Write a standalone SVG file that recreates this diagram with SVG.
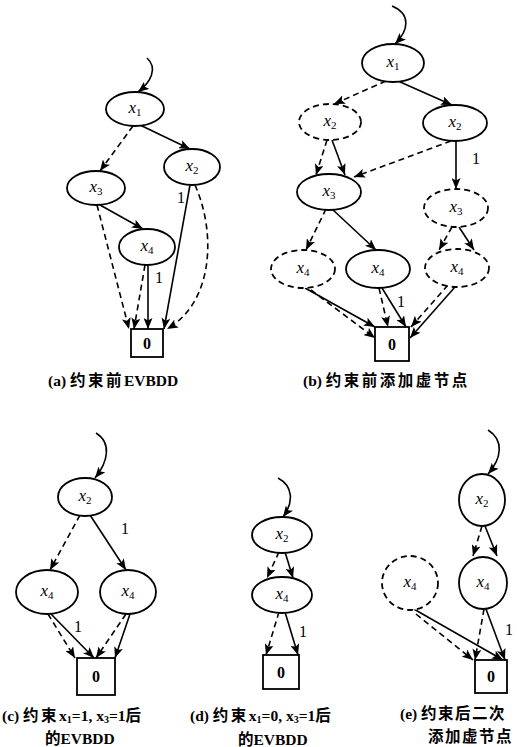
<svg xmlns="http://www.w3.org/2000/svg" width="517" height="747" viewBox="0 0 517 747">
  <style>
    .n ellipse, .n rect { fill: #fff; stroke: #000; stroke-width: 1.8; }
    .v ellipse { stroke-dasharray: 6 4; }
    .lbl { font-family: "Liberation Serif", serif; font-style: italic; font-size: 17px; text-anchor: middle; fill: #000; }
    .lbl .s { font-style: normal; font-size: 11px; }
    .zero { font-family: "Liberation Serif", serif; font-weight: bold; font-size: 16px; text-anchor: middle; fill: #000; }
    .e { fill: none; stroke: #000; stroke-width: 1.6; marker-end: url(#ah); }
    .d { stroke-dasharray: 6 4; }
    .w { font-family: "Liberation Serif", serif; font-size: 16px; text-anchor: middle; fill: #000; }
    .cap { font-family: "Liberation Serif", "Noto Sans CJK SC", serif; font-weight: bold; font-size: 15.5px; fill: #000; }
    .cj { letter-spacing: 2.5px; }
    .cj2 { letter-spacing: 1.5px; }
    .cs { font-size: 10px; }
  </style>
  <defs>
    <marker id="ah" viewBox="0 0 11 9" refX="11" refY="4.5" markerWidth="11" markerHeight="9" markerUnits="userSpaceOnUse" orient="auto">
      <path d="M0,0 L11,4.5 L0,9 L2.5,4.5 z" fill="#000"/>
    </marker>
  </defs>

  <!-- connectors -->
  <g id="edges">
    <!-- (a) -->
    <path class="e" d="M147,58 C158,68 151,82 138,92"/>
    <path class="e d" d="M133,126 L100,171"/>
    <path class="e" d="M140,125 L190,149"/>
    <path class="e" d="M100,205 L143,229"/>
    <path class="e d" d="M97,205 L129,329"/>
    <path class="e d" d="M145,265 L134,329"/>
    <path class="e" d="M148,265 L148,329"/>
    <path class="e" d="M190,185 L164,329"/>
    <path class="e d" d="M195,185 C216,232 214,302 167,329"/>
    <!-- (b) -->
    <path class="e" d="M392,6 C411,14 409,30 395,44"/>
    <path class="e d" d="M386,81 L334,104"/>
    <path class="e" d="M398,81 L452,105"/>
    <path class="e d" d="M327,140 L316,175"/>
    <path class="e" d="M332,140 L345,175"/>
    <path class="e d" d="M451,141 L354,177"/>
    <path class="e" d="M456,141 L456,189"/>
    <path class="e d" d="M326,209 L306,250"/>
    <path class="e" d="M332,209 L376,250"/>
    <path class="e d" d="M452,227 L439,250"/>
    <path class="e" d="M459,227 L474,250"/>
    <path class="e" d="M305,288 L375,327"/>
    <path class="e d" d="M311,290 L375,338"/>
    <path class="e d" d="M379,288 L388,327"/>
    <path class="e" d="M382,288 L406,327"/>
    <path class="e d" d="M448,285 L411,327"/>
    <path class="e" d="M455,287 L410,338"/>
    <!-- (c) -->
    <path class="e" d="M96,433 C112,443 108,462 95,478"/>
    <path class="e d" d="M80,515 L50,570"/>
    <path class="e" d="M90,515 L126,570"/>
    <path class="e d" d="M48,614 L75,658"/>
    <path class="e" d="M51,614 L94,658"/>
    <path class="e d" d="M126,614 L96,658"/>
    <path class="e" d="M130,614 L115,658"/>
    <!-- (d) -->
    <path class="e" d="M278,478 C293,486 294,502 283,517"/>
    <path class="e d" d="M279,552 L267,578"/>
    <path class="e" d="M285,552 L293,578"/>
    <path class="e d" d="M279,612 L266,655"/>
    <path class="e" d="M285,612 L298,655"/>
    <!-- (e) -->
    <path class="e" d="M488,430 C504,440 502,458 488,474"/>
    <path class="e d" d="M482,526 L473,556"/>
    <path class="e" d="M485,526 L497,556"/>
    <path class="e d" d="M484,609 L475,660"/>
    <path class="e" d="M486,609 L505,660"/>
    <path class="e d" d="M416,614 L473,660"/>
    <path class="e" d="M412,608 L503,660"/>
  </g>

  <!-- edge weights -->
  <g id="weights" class="w">
    <text x="181" y="203">1</text>
    <text x="159" y="283">1</text>
    <text x="476" y="164">1</text>
    <text x="401" y="307">1</text>
    <text x="125" y="534">1</text>
    <text x="78" y="632">1</text>
    <text x="303" y="637">1</text>
    <text x="509" y="635">1</text>
  </g>

  <!-- (a) nodes -->
  <g id="a-x1" class="n"><ellipse cx="135" cy="109" rx="29" ry="17"/><text class="lbl" x="135" y="113">x<tspan class="s" dy="3">1</tspan></text></g>
  <g id="a-x2" class="n"><ellipse cx="192" cy="167" rx="28" ry="18"/><text class="lbl" x="192" y="171">x<tspan class="s" dy="3">2</tspan></text></g>
  <g id="a-x3" class="n"><ellipse cx="96" cy="188" rx="29" ry="17"/><text class="lbl" x="96" y="192">x<tspan class="s" dy="3">3</tspan></text></g>
  <g id="a-x4" class="n"><ellipse cx="147" cy="247" rx="28" ry="18"/><text class="lbl" x="147" y="251">x<tspan class="s" dy="3">4</tspan></text></g>
  <g id="a-t0" class="n"><rect x="131" y="329" width="32" height="28"/><text class="zero" x="147" y="349">0</text></g>

  <!-- (b) nodes -->
  <g id="b-x1" class="n"><ellipse cx="393" cy="63" rx="31" ry="19"/><text class="lbl" x="393" y="67">x<tspan class="s" dy="3">1</tspan></text></g>
  <g id="b-x2v" class="n v"><ellipse cx="330" cy="122" rx="31" ry="18"/><text class="lbl" x="330" y="126">x<tspan class="s" dy="3">2</tspan></text></g>
  <g id="b-x2" class="n"><ellipse cx="455" cy="123" rx="32" ry="18"/><text class="lbl" x="455" y="127">x<tspan class="s" dy="3">2</tspan></text></g>
  <g id="b-x3" class="n"><ellipse cx="329" cy="192" rx="32" ry="18"/><text class="lbl" x="329" y="196">x<tspan class="s" dy="3">3</tspan></text></g>
  <g id="b-x3v" class="n v"><ellipse cx="456" cy="208" rx="32" ry="19"/><text class="lbl" x="456" y="212">x<tspan class="s" dy="3">3</tspan></text></g>
  <g id="b-x4v1" class="n v"><ellipse cx="303" cy="269" rx="32" ry="19"/><text class="lbl" x="303" y="273">x<tspan class="s" dy="3">4</tspan></text></g>
  <g id="b-x4" class="n"><ellipse cx="378" cy="269" rx="32" ry="19"/><text class="lbl" x="378" y="273">x<tspan class="s" dy="3">4</tspan></text></g>
  <g id="b-x4v2" class="n v"><ellipse cx="457" cy="268" rx="32" ry="19"/><text class="lbl" x="457" y="272">x<tspan class="s" dy="3">4</tspan></text></g>
  <g id="b-t0" class="n"><rect x="375" y="327" width="34" height="34"/><text class="zero" x="392" y="350">0</text></g>

  <!-- (c) nodes -->
  <g id="c-x2" class="n"><ellipse cx="85" cy="497" rx="27" ry="19"/><text class="lbl" x="85" y="501">x<tspan class="s" dy="3">2</tspan></text></g>
  <g id="c-x4a" class="n"><ellipse cx="47" cy="592" rx="31" ry="22"/><text class="lbl" x="47" y="596">x<tspan class="s" dy="3">4</tspan></text></g>
  <g id="c-x4b" class="n"><ellipse cx="128" cy="592" rx="28" ry="22"/><text class="lbl" x="128" y="596">x<tspan class="s" dy="3">4</tspan></text></g>
  <g id="c-t0" class="n"><rect x="77" y="658" width="38" height="37"/><text class="zero" x="96" y="682">0</text></g>

  <!-- (d) nodes -->
  <g id="d-x2" class="n"><ellipse cx="282" cy="535" rx="30" ry="18"/><text class="lbl" x="282" y="539">x<tspan class="s" dy="3">2</tspan></text></g>
  <g id="d-x4" class="n"><ellipse cx="282" cy="595" rx="30" ry="18"/><text class="lbl" x="282" y="599">x<tspan class="s" dy="3">4</tspan></text></g>
  <g id="d-t0" class="n"><rect x="263" y="655" width="36" height="34"/><text class="zero" x="281" y="678">0</text></g>

  <!-- (e) nodes -->
  <g id="e-x2" class="n"><ellipse cx="482" cy="500" rx="23" ry="26"/><text class="lbl" x="482" y="504">x<tspan class="s" dy="3">2</tspan></text></g>
  <g id="e-x4v" class="n v"><ellipse cx="410" cy="583" rx="28" ry="27"/><text class="lbl" x="410" y="587">x<tspan class="s" dy="3">4</tspan></text></g>
  <g id="e-x4" class="n"><ellipse cx="483" cy="583" rx="24" ry="26"/><text class="lbl" x="483" y="587">x<tspan class="s" dy="3">4</tspan></text></g>
  <g id="e-t0" class="n"><rect x="475" y="660" width="32" height="33"/><text class="zero" x="491" y="682">0</text></g>

  <!-- captions -->
  <g id="captions" class="cap">
    <text x="48" y="386">(a) <tspan class="cj">约束前</tspan>EVBDD</text>
    <text x="303" y="386">(b) <tspan class="cj">约束前添加虚节点</tspan></text>
    <text x="2" y="721">(c) <tspan class="cj">约束</tspan>x<tspan class="cs" dy="2">1</tspan><tspan dy="-2">=1, x</tspan><tspan class="cs" dy="2">3</tspan><tspan dy="-2">=1后</tspan></text>
    <text x="45" y="744">的EVBDD</text>
    <text x="190" y="721">(d) <tspan class="cj">约束</tspan>x<tspan class="cs" dy="2">1</tspan><tspan dy="-2">=0, x</tspan><tspan class="cs" dy="2">3</tspan><tspan dy="-2">=1后</tspan></text>
    <text x="238" y="745">的EVBDD</text>
    <text x="400" y="719">(e) <tspan class="cj2">约束后二次</tspan></text>
    <text x="428" y="742" class="cj2">添加虚节点</text>
  </g>
</svg>
